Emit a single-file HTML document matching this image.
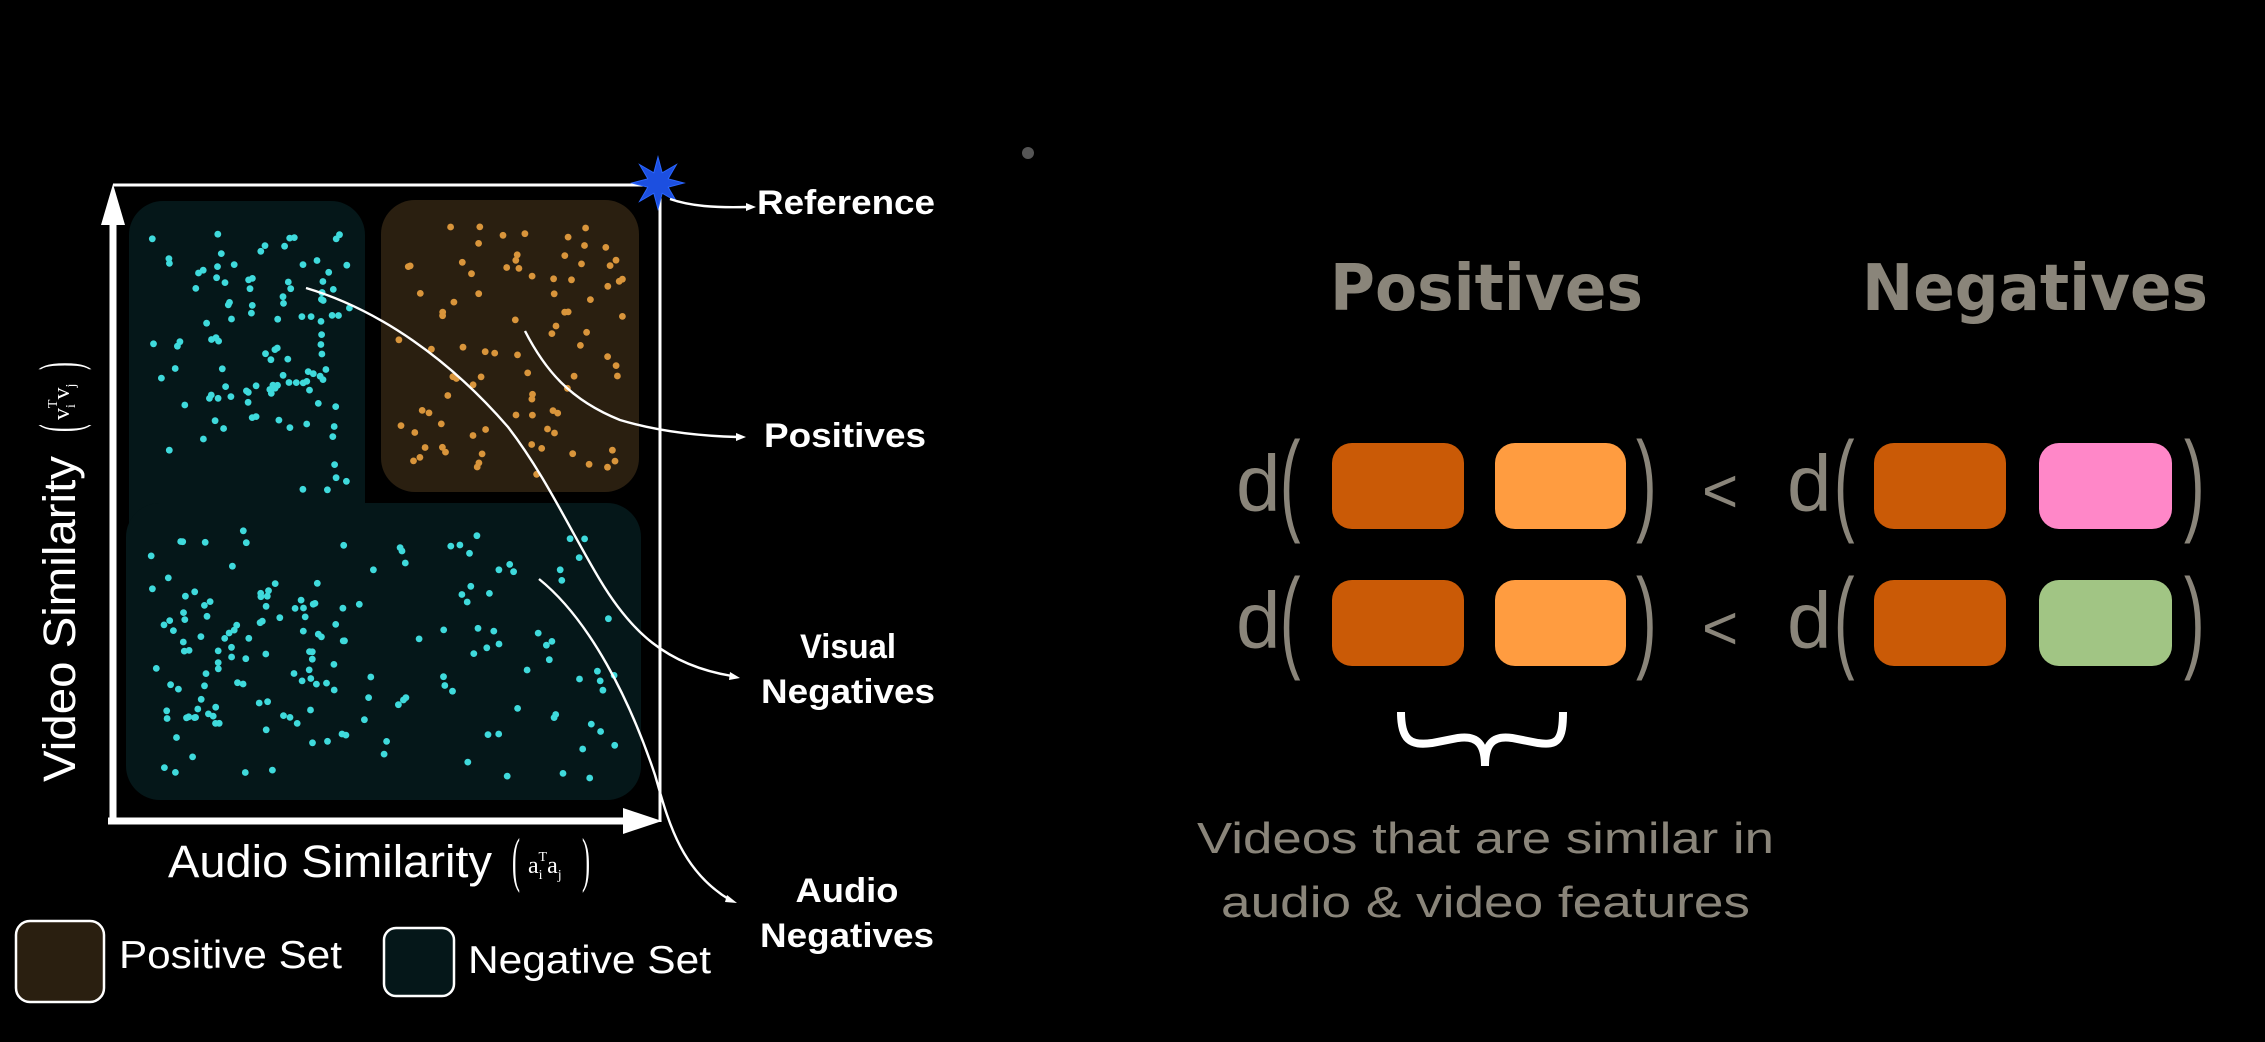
<!DOCTYPE html>
<html><head><meta charset="utf-8"><style>
html,body{margin:0;padding:0;background:#000;}
svg{display:block;}
</style></head><body>
<svg id="s" width="2265" height="1042" viewBox="0 0 2265 1042" xmlns="http://www.w3.org/2000/svg">
<rect width="2265" height="1042" fill="#000"/>
<rect x="129" y="201" width="236" height="599" rx="34" fill="#051719"/>
<rect x="126" y="503" width="515" height="297" rx="34" fill="#051719"/>
<rect x="200" y="503" width="165" height="60" fill="#051719"/>
<rect x="381" y="200" width="258" height="292" rx="34" fill="#2a1f10"/>
<g id="dots"></g>
<line x1="113" y1="185" x2="660" y2="185" stroke="#fff" stroke-width="3"/>
<line x1="660" y1="185" x2="660" y2="822" stroke="#fff" stroke-width="3"/>
<line x1="113" y1="222" x2="113" y2="824" stroke="#fff" stroke-width="7"/>
<polygon points="113,184 101,225 125,225" fill="#fff"/>
<line x1="108" y1="821" x2="626" y2="821" stroke="#fff" stroke-width="7"/>
<polygon points="662,821 623,808 623,834" fill="#fff"/>
<polygon id="star" fill="#1c4fe0" stroke="#2a66ff" stroke-width="1"/>
<g fill="none" stroke="#fff" stroke-width="2.4">
<path d="M670,199 C690,206 715,208 748,207"/>
<path d="M525,331 C545,370 570,400 620,420 C660,432 700,436 738,437"/>
<path d="M306,288 C380,310 450,360 508,427 C545,475 570,530 600,580 C630,630 665,665 732,676"/>
<path d="M539,579 C590,620 630,700 655,775 C668,820 680,870 730,900"/>
</g>
<g fill="#fff">
<polygon points="756,207 746,203 746,211"/>
<polygon points="746,437 736,433 736,441"/>
<polygon points="740,678 730,672 729,680"/>
<polygon points="737,903 727,895 725,902"/>
</g>
<g font-family="Liberation Sans, sans-serif" font-weight="bold" fill="#fff" font-size="34">
<text x="757" y="214" textLength="178" lengthAdjust="spacingAndGlyphs">Reference</text>
<text x="764" y="447" textLength="162" lengthAdjust="spacingAndGlyphs">Positives</text>
<text x="848" y="658" text-anchor="middle" textLength="96" lengthAdjust="spacingAndGlyphs">Visual</text>
<text x="848" y="703" text-anchor="middle" textLength="174" lengthAdjust="spacingAndGlyphs">Negatives</text>
<text x="847" y="902" text-anchor="middle" textLength="103" lengthAdjust="spacingAndGlyphs">Audio</text>
<text x="847" y="947" text-anchor="middle" textLength="174" lengthAdjust="spacingAndGlyphs">Negatives</text>
</g>
<g font-family="Liberation Sans, sans-serif" fill="#fff">
<text x="168" y="877" font-size="45" textLength="324" lengthAdjust="spacingAndGlyphs">Audio Similarity</text>
<text transform="translate(512 880) scale(0.4 1)" font-family="Liberation Serif, serif" font-size="60">(</text>
<text x="528" y="873" font-family="Liberation Serif, serif" font-size="24">a<tspan font-size="14" dy="6">i</tspan><tspan font-size="14" dy="-18" dx="-4">T</tspan><tspan font-size="24" dy="12">a</tspan><tspan font-size="14" dy="6">j</tspan></text>
<text transform="translate(582 880) scale(0.4 1)" font-family="Liberation Serif, serif" font-size="60">)</text>
<g transform="translate(75 782) rotate(-90)">
<text x="0" y="0" font-size="45" textLength="326" lengthAdjust="spacingAndGlyphs">Video Similarity</text>
<text transform="translate(350 4) scale(0.4 1)" font-family="Liberation Serif, serif" font-size="58">(</text>
<text x="362" y="-6" font-family="Liberation Serif, serif" font-size="24">v<tspan font-size="14" dy="6">i</tspan><tspan font-size="14" dy="-18" dx="-4">T</tspan><tspan font-size="24" dy="12">v</tspan><tspan font-size="14" dy="6">j</tspan></text>
<text transform="translate(412 4) scale(0.4 1)" font-family="Liberation Serif, serif" font-size="58">)</text>
</g>
<rect x="16" y="921" width="88" height="81" rx="14" fill="#2a1f10" stroke="#fff" stroke-width="2.5"/>
<text x="119" y="968" font-size="39" textLength="223" lengthAdjust="spacingAndGlyphs">Positive Set</text>
<rect x="384" y="928" width="70" height="68" rx="12" fill="#051719" stroke="#fff" stroke-width="2.5"/>
<text x="468" y="973" font-size="39" textLength="243" lengthAdjust="spacingAndGlyphs">Negative Set</text>
</g>
<circle cx="1028" cy="153" r="6" fill="#555"/>
<g font-family="DejaVu Sans, Liberation Sans, sans-serif" font-weight="bold" fill="#8a857a" font-size="64">
<text x="1330" y="310" textLength="313" lengthAdjust="spacingAndGlyphs">Positives</text>
<text x="1862" y="310" textLength="346" lengthAdjust="spacingAndGlyphs">Negatives</text>
</g>
<g fill="#ca5a06">
<rect x="1332" y="443" width="132" height="86" rx="20"/>
<rect x="1874" y="443" width="132" height="86" rx="20"/>
<rect x="1332" y="580" width="132" height="86" rx="20"/>
<rect x="1874" y="580" width="132" height="86" rx="20"/>
</g>
<rect x="1495" y="443" width="131" height="86" rx="20" fill="#ff9c40"/>
<rect x="1495" y="580" width="131" height="86" rx="20" fill="#ff9c40"/>
<rect x="2039" y="443" width="133" height="86" rx="20" fill="#ff87c8"/>
<rect x="2039" y="580" width="133" height="86" rx="20" fill="#a1c584"/>
<g font-family="Liberation Sans, sans-serif" fill="#8a857a" font-size="80">
<text x="1236" y="511">d</text>
<text transform="translate(1280 520) scale(0.55 1)" font-size="112">(</text>
<text transform="translate(1636 520) scale(0.55 1)" font-size="112">)</text>
<text x="1702" y="512" font-size="62">&lt;</text>
<text x="1787" y="511">d</text>
<text transform="translate(1834 520) scale(0.55 1)" font-size="112">(</text>
<text transform="translate(2184 520) scale(0.55 1)" font-size="112">)</text>
<text x="1236" y="648">d</text>
<text transform="translate(1280 657) scale(0.55 1)" font-size="112">(</text>
<text transform="translate(1636 657) scale(0.55 1)" font-size="112">)</text>
<text x="1702" y="649" font-size="62">&lt;</text>
<text x="1787" y="648">d</text>
<text transform="translate(1834 657) scale(0.55 1)" font-size="112">(</text>
<text transform="translate(2184 657) scale(0.55 1)" font-size="112">)</text>
</g>
<path d="M1401,712 C1401,740 1410,746 1432,743 L1458,738 C1478,735 1485,745 1485,766 C1485,745 1492,735 1512,738 L1538,743 C1558,746 1563,740 1563,712" fill="none" stroke="#fff" stroke-width="8"/>
<g font-family="Liberation Sans, sans-serif" fill="#8a857a" font-size="44">
<text x="1197" y="853" textLength="577" lengthAdjust="spacingAndGlyphs">Videos that are similar in</text>
<text x="1221" y="917" textLength="529" lengthAdjust="spacingAndGlyphs">audio &amp; video features</text>
</g>
</svg>
<script>
(function(){
var ns="http://www.w3.org/2000/svg";
var g=document.getElementById('dots');
var seed=12345;function r(){seed=(seed*16807)%2147483647;return seed/2147483647;}
function dot(x,y,c){var e=document.createElementNS(ns,'circle');e.setAttribute('cx',x.toFixed(1));e.setAttribute('cy',y.toFixed(1));e.setAttribute('r','3.4');e.setAttribute('fill',c);g.appendChild(e);}
var n;
for(n=0;n<60;n++){dot(150+r()*200,225+r()*270,'#3fdadc');}
for(n=0;n<50;n++){dot(215+r()*120,260+r()*180,'#3fdadc');}
for(n=0;n<130;n++){dot(150+r()*470,530+r()*250,'#3fdadc');}
for(n=0;n<40;n++){dot(170+r()*150,570+r()*160,'#3fdadc');}
for(n=0;n<90;n++){dot(398+r()*228,225+r()*260,'#d9953b');}
var st=document.getElementById('star');var p=[];
for(var i=0;i<16;i++){var a=-Math.PI/2+i*Math.PI/8;var rr=i%2?11:26;p.push((658+rr*Math.cos(a)).toFixed(1)+','+(183+rr*Math.sin(a)).toFixed(1));}
st.setAttribute('points',p.join(' '));
})();
</script>
</body></html>
